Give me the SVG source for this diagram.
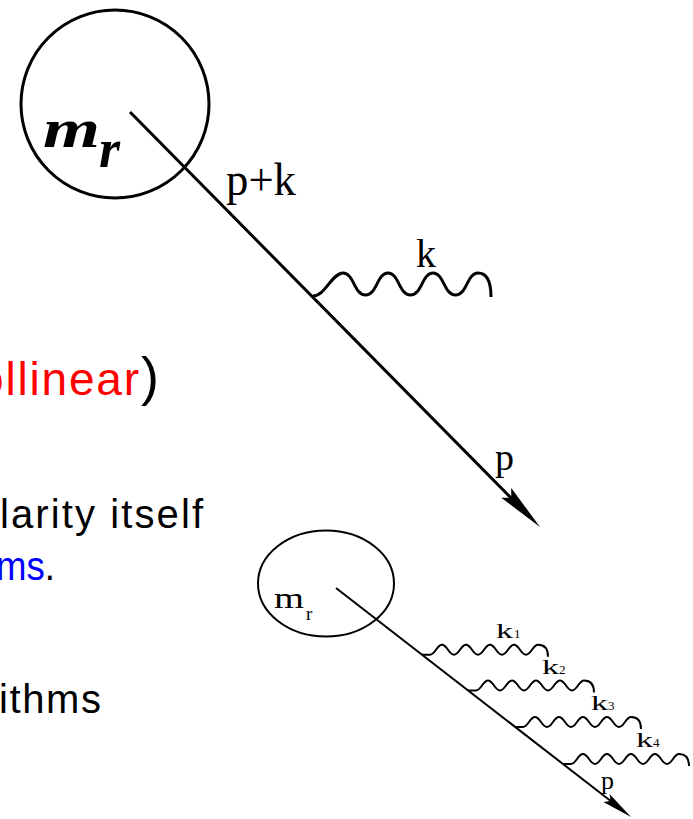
<svg xmlns="http://www.w3.org/2000/svg" xmlns:xlink="http://www.w3.org/1999/xlink" width="693" height="819" viewBox="0 0 693 819">
<style>
.ln{fill:none;stroke:#000;stroke-linecap:butt}
.s1{stroke-width:3}
.s2{stroke-width:2}
.sf{font-family:"Liberation Serif","Times New Roman",serif;fill:#000}
.ss{font-family:"Liberation Sans",Arial,sans-serif;fill:#000}
.bi{font-weight:bold;font-style:italic}
.red{fill:#ff0000}
.blue{fill:#0000ff}
</style>
<defs>
<path id="wig" class="ln s2" d="M0,0 L8,0 C13,0 15,-10 20,-10 C25,-10 27,0 32,0 C37,0 39,-10 44,-10 C49,-10 51,0 56,0 C61,0 63,-10 68,-10 C73,-10 75,0 80,0 C85,0 87,-10 92,-10 C97,-10 99,0 104,0 C109,0 111,-10 116,-10 C121,-10 126,-8 126,2"/>
</defs>
<rect width="693" height="819" fill="#fff"/>

<g id="slide-text">
<text class="ss red" x="-22" y="395" font-size="46" textLength="161" lengthAdjust="spacing">ollinear</text>
<text class="ss" x="141" y="395" font-size="54">)</text>
<text class="ss" x="0" y="528" font-size="40" textLength="203" lengthAdjust="spacing">larity itself</text>
<text class="ss" x="-4" y="580" font-size="40" textLength="59" lengthAdjust="spacingAndGlyphs"><tspan class="blue">ms</tspan>.</text>
<text class="ss" x="-1" y="713" font-size="40" textLength="102" lengthAdjust="spacing">ithms</text>
</g>

<g id="blob1">
<circle cx="115" cy="104" r="94" class="ln s1"/>
<text class="sf bi" x="43" y="147" font-size="54" textLength="57" lengthAdjust="spacingAndGlyphs">m</text>
<text class="sf bi" x="99" y="167" font-size="54">r</text>
</g>

<g id="blob2">
<ellipse cx="326" cy="583.5" rx="68" ry="53" class="ln s2"/>
<text class="sf" x="274" y="608" font-size="29" textLength="30" lengthAdjust="spacingAndGlyphs">m</text>
<text class="sf" x="306" y="620" font-size="19">r</text>
</g>

<g id="connectors">
<line x1="130" y1="112" x2="515" y2="502" class="ln s1"/>
<polygon points="0,0 -48,-7 -41,0 -48,7" transform="translate(540,527) rotate(45.35)" fill="#000"/>
<path class="ln s1" d="M313,296 C325,296 332,273 343,273 C354,273 354,295 365.5,295 C377,295 377,273 388,273 C399,273 399,295 410.5,295 C422,295 422,273 433,273 C444,273 444,295 455.5,295 C467,295 467,273 478,273 C489,273 491,285 491,297"/>

<line x1="336" y1="588" x2="612" y2="802" class="ln s2"/>
<polygon points="0,0 -31,-5 -26,0 -31,5" transform="translate(631,817) rotate(37.8)" fill="#000"/>
<use xlink:href="#wig" transform="translate(422,654.8)"/>
<use xlink:href="#wig" transform="translate(468,690.5)"/>
<use xlink:href="#wig" transform="translate(515,727)"/>
<use xlink:href="#wig" transform="translate(563,764)"/>
</g>

<g id="labels">
<text class="sf" x="226" y="195" font-size="46" textLength="70" lengthAdjust="spacingAndGlyphs">p+k</text>
<text class="sf" x="416" y="267" font-size="40">k</text>
<text class="sf" x="495" y="470" font-size="38">p</text>
<text class="sf" x="496" y="638" font-size="22" textLength="17" lengthAdjust="spacingAndGlyphs">k</text>
<text class="sf" x="514" y="638" font-size="13">1</text>
<text class="sf" x="542" y="674" font-size="22" textLength="17" lengthAdjust="spacingAndGlyphs">k</text>
<text class="sf" x="559" y="674" font-size="13">2</text>
<text class="sf" x="591" y="710" font-size="22" textLength="17" lengthAdjust="spacingAndGlyphs">k</text>
<text class="sf" x="608" y="710" font-size="13">3</text>
<text class="sf" x="636" y="747" font-size="22" textLength="17" lengthAdjust="spacingAndGlyphs">k</text>
<text class="sf" x="653" y="747" font-size="13">4</text>
<text class="sf" x="601" y="789" font-size="26">p</text>
</g>
</svg>
